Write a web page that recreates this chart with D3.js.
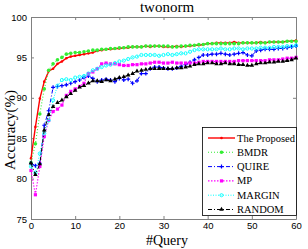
<html>
<head>
<script src="https://d3js.org/d3.v7.min.js"></script>
<style>
	body { margin: 0; background: #fff; }
	.tick text { font-family: "Liberation Sans", Arial, sans-serif; font-size: 9.5px; fill: #000; }
	.tick line, .domain { stroke: #808080; }
</style>
</head>
<body>
<div id="chart"></div>
<script>
var queries = d3.range(0, 61);
var xTicks = [0, 10, 20, 30, 40, 50, 60];
var yTicks = [75, 80, 85, 90, 95, 100];
var seriesNames = ["The Proposed", "BMDR", "QUIRE", "MP", "MARGIN", "RANDOM"];

var proposed = [82.5,86.4,89.9,92.0,93.3,93.6,94.2,94.5,94.9,95.1,95.2,
	95.3,95.4,95.5,95.6,95.8,95.9,96.0,96.0,96.1,96.1,
	96.2,96.2,96.3,96.3,96.3,96.4,96.3,96.4,96.4,96.3,
	96.3,96.3,96.4,96.3,96.4,96.4,96.5,96.5,96.6,96.7,
	96.7,96.8,96.8,96.8,96.8,96.9,96.8,96.8,96.8,96.8,
	96.8,96.9,96.8,96.9,96.9,96.9,96.9,97.0,97.0,97.1];
var bmdr = [82.0,84.3,88.0,91.1,93.4,94.2,94.7,95.0,95.4,95.5,95.6,
	95.6,95.7,95.8,95.9,95.9,96.0,96.0,96.1,96.1,96.2,
	96.2,96.3,96.3,96.3,96.3,96.4,96.4,96.4,96.4,96.4,
	96.4,96.3,96.3,96.4,96.4,96.5,96.5,96.6,96.6,96.7,
	96.7,96.7,96.7,96.7,96.7,96.7,96.7,96.8,96.8,96.8,
	96.8,96.8,96.8,96.9,96.9,96.9,96.9,97.0,97.0,97.0];
var quire = [81.9,81.6,81.9,86.6,88.4,91.3,91.4,91.5,91.6,91.8,92.0,
	92.2,92.5,92.7,92.4,92.0,92.2,92.3,92.2,92.0,92.4,
	92.2,92.3,91.8,92.1,93.0,93.0,93.6,93.8,93.8,93.7,
	93.6,93.6,93.7,93.9,94.1,94.4,94.7,95.0,95.3,95.3,
	95.4,95.4,95.5,95.4,95.3,95.4,95.5,95.6,95.3,95.2,
	95.8,95.9,96.0,96.0,96.0,96.1,96.1,96.2,96.3,96.4];
var mp = [81.0,78.0,81.5,85.2,87.2,88.3,88.6,89.1,90.3,90.8,91.1,
	91.4,91.8,93.0,93.2,93.6,94.2,94.3,94.2,94.2,94.1,
	94.0,94.0,94.1,94.1,94.2,94.2,94.3,94.4,94.4,94.3,
	94.3,94.4,94.3,94.3,94.3,94.3,94.3,94.4,94.5,94.5,
	94.5,94.5,94.5,94.5,94.5,94.5,94.6,94.6,94.6,94.6,
	94.6,94.6,94.6,94.7,94.7,94.7,94.8,94.9,94.9,95.0];
var margin = [81.5,80.7,83.1,85.6,87.2,89.7,91.5,92.2,92.3,92.2,92.5,
	92.6,92.7,93.0,93.4,93.6,93.8,94.0,94.1,94.3,94.5,
	94.6,94.8,95.0,95.1,95.3,95.3,95.3,95.3,95.2,95.3,
	95.4,95.3,95.4,95.5,95.5,95.7,95.9,96.0,96.0,96.0,
	96.0,96.0,96.1,96.0,96.0,96.1,96.1,96.0,96.1,96.1,
	96.1,96.2,96.2,96.2,96.3,96.3,96.3,96.4,96.4,96.5];
var random = [81.9,80.5,81.8,86.0,87.9,88.9,89.4,89.7,90.1,90.5,90.9,
	91.3,91.5,91.8,92.1,92.1,92.0,92.2,92.1,92.3,92.5,
	92.6,92.8,93.0,93.3,93.4,93.5,93.6,93.6,93.6,93.6,
	93.6,93.6,93.7,93.7,93.8,93.9,94.1,94.2,94.2,94.3,
	94.3,94.2,94.2,94.3,94.2,94.2,94.1,94.1,94.0,94.0,
	94.2,94.3,94.3,94.4,94.4,94.5,94.5,94.6,94.7,94.9];

var seriesValues = [proposed, bmdr, quire, mp, margin, random];
// line / marker style for each series, matlab-like
var styles = [
	{color: "#ff0000", dash: null, width: 1.4, marker: "dot"},
	{color: "#33ee33", dash: "1,2", width: 1.1, marker: "blob"},
	{color: "#0000ff", dash: "4,2,1,2", width: 1, marker: "plus"},
	{color: "#ff00ff", dash: "1.5,1.5", width: 1.1, marker: "square"},
	{color: "#00ffff", dash: "1,1.5", width: 1, marker: "circle"},
	{color: "#000000", dash: "4,2,1,2", width: 1, marker: "triangle"}
];

var w = 308, h = 249;
var plot = {left: 31, right: 296, top: 17, bottom: 219};

var svg = d3.select("#chart").append("svg")
	.attr("width", w)
	.attr("height", h);

var x = d3.scaleLinear().domain([0, 60]).range([plot.left, plot.right]);
var y = d3.scaleLinear().domain([75, 100]).range([plot.bottom, plot.top]);

// axes box with inward ticks on all four sides
svg.append("g")
	.attr("transform", "translate(0," + plot.bottom + ")")
	.call(d3.axisBottom(x).tickValues(xTicks).tickSize(-3).tickSizeOuter(0).tickPadding(3));
svg.append("g")
	.attr("transform", "translate(0," + plot.top + ")")
	.call(d3.axisTop(x).tickValues(xTicks).tickSize(-3).tickSizeOuter(0).tickFormat(""));
svg.append("g")
	.attr("transform", "translate(" + plot.left + ",0)")
	.call(d3.axisLeft(y).tickValues(yTicks).tickSize(-3).tickSizeOuter(0).tickPadding(4));
svg.append("g")
	.attr("transform", "translate(" + plot.right + ",0)")
	.call(d3.axisRight(y).tickValues(yTicks).tickSize(-3).tickSizeOuter(0).tickFormat(""));

function drawMarker(g, type, color) {
	if (type == "dot") {
		g.append("circle").attr("r", 1.3).attr("fill", color);
	} else if (type == "blob") {
		g.append("circle").attr("r", 1.8).attr("fill", color);
	} else if (type == "plus") {
		g.append("path").attr("d", "M-2,0H2M0,-2V2").attr("stroke", color).attr("stroke-width", 1.2);
	} else if (type == "square") {
		g.append("rect").attr("x", -1.6).attr("y", -1.6).attr("width", 3.2).attr("height", 3.2).attr("fill", color);
	} else if (type == "circle") {
		g.append("circle").attr("r", 1.6).attr("fill", "none").attr("stroke", color).attr("stroke-width", 0.9);
	} else if (type == "triangle") {
		g.append("path").attr("d", d3.symbol(d3.symbolTriangle, 9)()).attr("fill", color);
	}
}

var line = d3.line()
	.x(function(d, i) { return x(queries[i]); })
	.y(function(d) { return y(d); });

seriesValues.forEach(function(vals, s) {
	var st = styles[s];
	svg.append("path")
		.datum(vals)
		.attr("d", line)
		.attr("fill", "none")
		.attr("stroke", st.color)
		.attr("stroke-width", st.width)
		.attr("stroke-dasharray", st.dash);
	vals.forEach(function(v, i) {
		var g = svg.append("g").attr("transform", "translate(" + x(queries[i]) + "," + y(v) + ")");
		drawMarker(g, st.marker, st.color);
	});
});

// title and labels
svg.append("text")
	.attr("x", 167).attr("y", 12)
	.attr("text-anchor", "middle")
	.style("font-family", "Liberation Serif, Times New Roman, serif")
	.style("font-size", "15px")
	.text("twonorm");
svg.append("text")
	.attr("x", 167).attr("y", 245)
	.attr("text-anchor", "middle")
	.style("font-family", "Liberation Serif, Times New Roman, serif")
	.style("font-size", "14px")
	.text("#Query");
svg.append("text")
	.attr("transform", "translate(15,130) rotate(-90)")
	.attr("text-anchor", "middle")
	.style("font-family", "Liberation Serif, Times New Roman, serif")
	.style("font-size", "15px")
	.text("Accuracy(%)");

// legend
var legend = svg.append("g");
legend.append("rect")
	.attr("x", 202.5).attr("y", 127.5)
	.attr("width", 94).attr("height", 88)
	.attr("fill", "#fff")
	.attr("stroke", "#000")
	.attr("stroke-width", 0.8);
seriesNames.forEach(function(name, i) {
	var st = styles[i];
	var ly = 138 + i * 14.3;
	legend.append("line")
		.attr("x1", 208).attr("x2", 235)
		.attr("y1", ly).attr("y2", ly)
		.attr("stroke", st.color)
		.attr("stroke-width", st.width)
		.attr("stroke-dasharray", st.dash);
	drawMarker(legend.append("g").attr("transform", "translate(221.5," + ly + ")"), st.marker, st.color);
	legend.append("text")
		.attr("x", 237).attr("y", ly + 3.5)
		.style("font-family", "Liberation Serif, Times New Roman, serif")
		.style("font-size", "10.5px")
		.text(name);
});
</script>
</body>
</html>
